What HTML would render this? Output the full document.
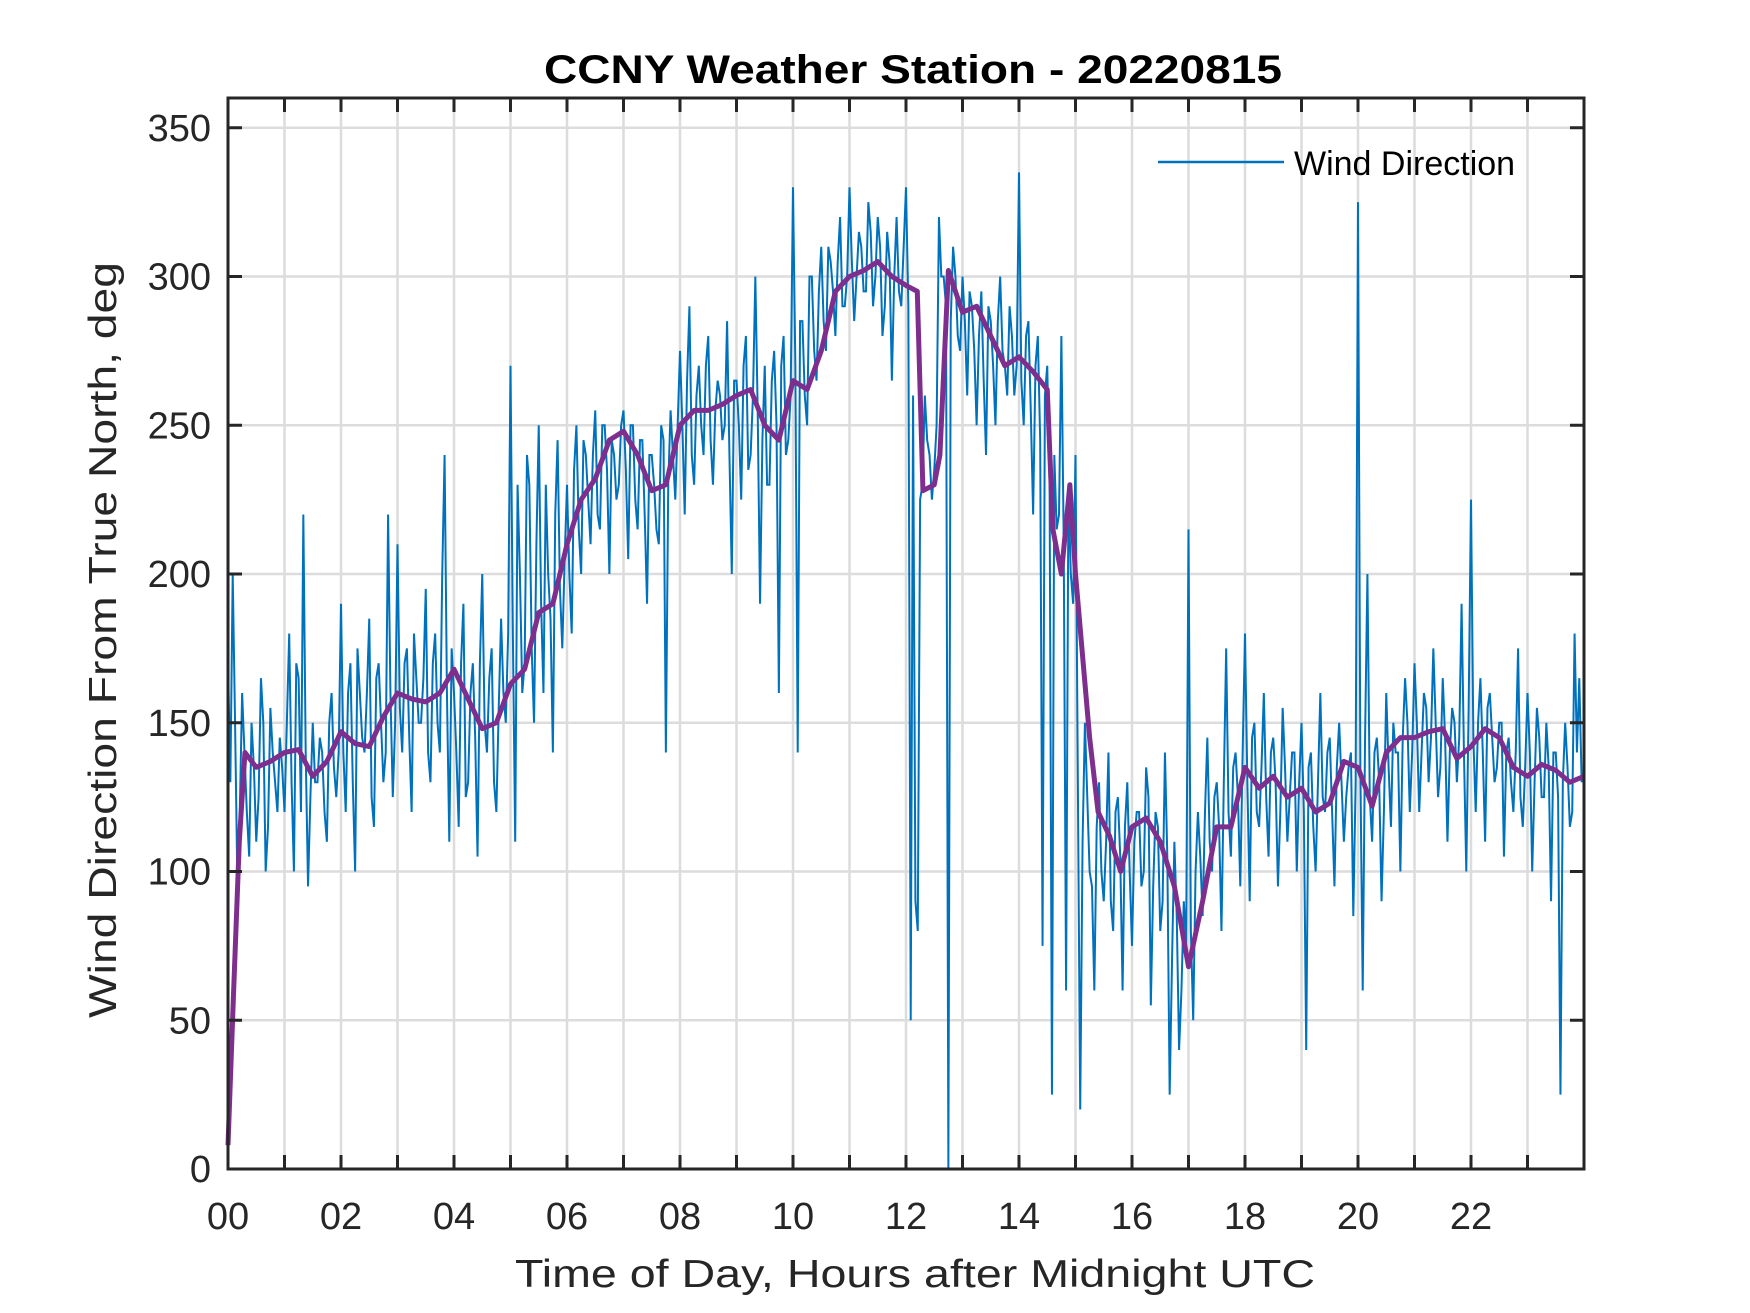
<!DOCTYPE html>
<html><head><meta charset="utf-8"><style>
html,body{margin:0;padding:0;background:#fff;}
svg{display:block;font-family:"Liberation Sans",Arial,sans-serif;}
</style></head><body>
<svg id="chart" width="1750" height="1313" viewBox="0 0 1750 1313">
<g id="grid"></g>
<g id="series"></g>
<g id="axes"></g>
<text x="913" y="83" text-anchor="middle" font-size="40" font-weight="bold" textLength="738" lengthAdjust="spacingAndGlyphs" fill="#000">CCNY Weather Station - 20220815</text>
<text x="915" y="1287" text-anchor="middle" font-size="39" textLength="800" lengthAdjust="spacingAndGlyphs" fill="#262626">Time of Day, Hours after Midnight UTC</text>
<text transform="translate(116,640) rotate(-90)" text-anchor="middle" font-size="39" textLength="756" lengthAdjust="spacingAndGlyphs" fill="#262626">Wind Direction From True North, deg</text>
<g>
<line x1="1158" y1="162" x2="1284" y2="162" stroke="#0072BD" stroke-width="2.5"/>
<text x="1294" y="175" font-size="34" fill="#000">Wind Direction</text>
</g>
</svg>
<script>
const xTickLabels=["00","02","04","06","08","10","12","14","16","18","20","22"];
const yTickValues=[0,50,100,150,200,250,300,350];
// raw wind direction, 5-minute samples starting at 00:00
const windRaw=[
170,200,95,160,120,150,110,165,100,155,130,145,
120,180,100,165,220,95,150,130,140,110,160,125,
190,120,170,100,160,140,185,115,170,130,220,125,
210,140,175,120,165,150,195,130,180,140,240,110,
160,115,190,130,170,105,200,140,175,120,185,150,
270,110,200,170,230,150,250,160,200,140,245,175,
230,180,250,200,240,210,255,215,250,200,240,230,
255,205,250,215,245,190,240,215,250,140,255,225,
275,220,290,230,270,240,280,230,265,245,285,200,
265,225,280,240,300,190,270,230,275,160,280,245,
330,140,285,250,300,265,310,275,305,280,320,290,
330,285,315,295,325,290,320,280,315,265,320,290,
330,50,90,225,260,240,235,320,300,0,310,280,
300,260,290,250,295,240,285,250,300,270,290,260,
335,250,285,220,280,75,270,25,215,280,60,200,
240,20,150,100,60,130,90,140,80,125,60,130,
75,120,95,135,55,120,80,140,25,110,40,90,
215,50,120,85,145,100,130,80,175,105,140,95,
180,90,150,115,160,105,145,95,155,110,140,100,
150,40,140,100,160,120,145,95,150,110,135,85,
325,60,200,110,145,90,160,115,140,100,165,120,
170,120,160,130,175,125,165,110,155,130,190,100,
225,120,165,110,160,130,150,105,145,120,175,115,
160,100,155,125,150,90,140,25,150,115,180,165];
// raw wind direction, 5-minute samples starting at 00:02:30
const windRawB=[
130,150,120,140,105,135,125,150,115,140,120,135,
150,130,170,120,140,125,130,145,120,150,135,140,
140,160,130,175,145,160,125,165,150,140,160,150,
155,170,145,180,150,165,140,170,150,200,160,175,
140,170,125,160,145,170,150,165,130,155,160,180,
180,230,160,240,175,210,190,230,185,220,195,205,
200,235,215,245,225,240,220,250,235,245,225,250,
235,250,225,245,220,240,230,210,245,230,240,250,
250,265,240,260,250,270,245,255,260,250,240,265,
250,270,235,260,255,245,230,265,250,270,240,260,
270,285,260,300,275,295,285,310,295,305,290,300,
305,300,310,295,315,300,310,290,305,300,295,310,
290,260,80,230,245,225,250,300,290,285,300,275,
285,295,275,280,265,290,270,285,275,260,280,270,
265,280,255,270,245,260,230,240,220,210,230,190,
130,110,125,95,115,100,110,90,120,105,115,100,
110,120,100,125,95,115,90,105,70,85,60,75,
80,100,105,120,110,125,115,130,120,135,125,140,
130,145,120,135,125,140,130,120,135,125,140,130,
120,135,115,130,125,140,120,135,130,125,140,130,
135,145,125,140,130,120,135,150,140,145,150,140,
150,140,155,145,150,135,145,140,150,145,140,155,
145,150,140,155,145,135,150,140,130,140,125,135,
140,130,145,125,135,140,125,130,135,120,140,130];
const smoothHours=[0,0.1,0.2,0.3,0.5,0.75,1,1.25,1.5,1.75,2,2.25,2.5,2.75,3,3.25,3.5,3.75,4,4.25,4.5,4.75,5,5.25,5.5,5.75,6,6.25,6.5,6.75,7,7.25,7.5,7.75,8,8.25,8.5,8.75,9,9.25,9.5,9.75,10,10.25,10.5,10.75,11,11.25,11.5,11.75,12,12.2,12.3,12.5,12.6,12.75,13,13.25,13.5,13.75,14,14.25,14.5,14.6,14.75,14.9,15,15.25,15.4,15.6,15.8,16,16.25,16.5,16.75,17,17.25,17.5,17.75,18,18.25,18.5,18.75,19,19.25,19.5,19.75,20,20.25,20.5,20.75,21,21.25,21.5,21.75,22,22.25,22.5,22.75,23,23.25,23.5,23.75,24];
const smoothValues=[8,60,110,140,135,137,140,141,132,137,147,143,142,152,160,158,157,160,168,158,148,150,163,168,187,190,210,225,232,245,248,240,228,230,250,255,255,257,260,262,250,245,265,262,275,295,300,302,305,300,297,295,228,230,240,302,288,290,280,270,273,268,262,215,200,230,200,145,120,112,100,115,118,110,95,68,90,115,115,135,128,132,125,128,120,123,137,135,122,140,145,145,147,148,138,142,148,145,135,132,136,134,130,132];

const L=228,R=1584,T=98,B=1169;
const X=h=>L+(h/24)*(R-L);
const Y=v=>B-(v/360)*(B-T);
const NS="http://www.w3.org/2000/svg";
function mk(tag,attrs,parent){const e=document.createElementNS(NS,tag);for(const k in attrs)e.setAttribute(k,attrs[k]);parent.appendChild(e);return e;}
const grid=document.getElementById('grid'),series=document.getElementById('series'),axes=document.getElementById('axes');
for(let h=1;h<24;h++){
  const g=mk('line',{x1:X(h),x2:X(h),y1:T,y2:B,stroke:'#dcdcdc','stroke-width':2.5},grid);
  
  
  const t1=mk('line',{x1:X(h),x2:X(h),y1:B,y2:B-14,stroke:'#262626','stroke-width':3},axes);
  
  
  const t2=mk('line',{x1:X(h),x2:X(h),y1:T,y2:T+14,stroke:'#262626','stroke-width':3},axes);
  
  
}
yTickValues.forEach(v=>{
  if(v>0){const g=mk('line',{x1:L,x2:R,y1:Y(v),y2:Y(v),stroke:'#dcdcdc','stroke-width':2.5},grid);
  
  }
  const t1=mk('line',{x1:L,x2:L+14,y1:Y(v),y2:Y(v),stroke:'#262626','stroke-width':3},axes);
  
  
  const t2=mk('line',{x1:R,x2:R-14,y1:Y(v),y2:Y(v),stroke:'#262626','stroke-width':3},axes);
  
  
  const lb=mk('text',{x:211,y:Y(v)+13,'text-anchor':'end','font-size':38,fill:'#262626'},axes);
  lb.textContent=String(v);
  
  
});
xTickLabels.forEach((s,i)=>{
  const lb=mk('text',{x:X(i*2),y:1229,'text-anchor':'middle','font-size':38,fill:'#262626'},axes);
  lb.textContent=s;
  
  
});
const box=mk('rect',{x:L,y:T,width:R-L,height:B-T,fill:'none',stroke:'#262626','stroke-width':3},axes);


const pts=[];
windRaw.forEach((v,i)=>{
  pts.push(X(i*5/60)+','+Y(v));
  if(i<windRawB.length) pts.push(X((i*5+2.5)/60)+','+Y(windRawB[i]));
});
const raw=mk('polyline',{points:pts.join(' '),fill:'none',stroke:'#0072BD','stroke-width':2},series);


const sm=mk('polyline',{points:smoothValues.map((v,i)=>X(smoothHours[i])+','+Y(v)).join(' '),fill:'none',stroke:'#7E2F8E','stroke-width':5,'stroke-linejoin':'round'},series);


</script>
</body></html>
